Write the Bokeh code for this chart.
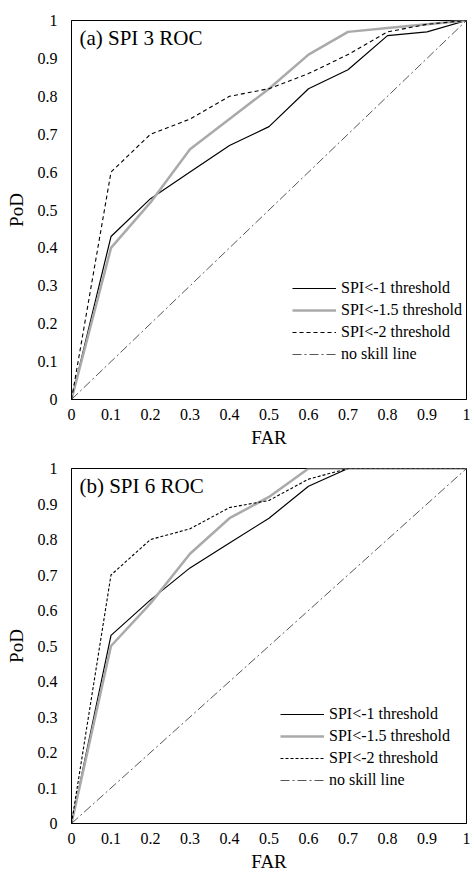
from bokeh.plotting import figure
from bokeh.layouts import column
from bokeh.models import Legend, LegendItem, FixedTicker
from bokeh.embed import file_html
from bokeh.resources import INLINE

far = [0, 0.1, 0.2, 0.3, 0.4, 0.5, 0.6, 0.7, 0.8, 0.9, 1.0]

# (a) SPI 3
a_spi1 = [0, 0.43, 0.53, 0.60, 0.67, 0.72, 0.82, 0.87, 0.96, 0.97, 1.0]
a_spi15 = [0, 0.40, 0.52, 0.66, 0.74, 0.82, 0.91, 0.97, 0.98, 0.99, 1.0]
a_spi2 = [0, 0.60, 0.70, 0.74, 0.80, 0.82, 0.86, 0.91, 0.97, 0.99, 1.0]

# (b) SPI 6
b_spi1 = [0, 0.53, 0.63, 0.72, 0.79, 0.86, 0.95, 1.0, 1.0, 1.0, 1.0]
b_spi15 = [0, 0.50, 0.62, 0.76, 0.86, 0.92, 1.0, 1.0, 1.0, 1.0, 1.0]
b_spi2 = [0, 0.70, 0.80, 0.83, 0.89, 0.91, 0.97, 1.0, 1.0, 1.0, 1.0]

noskill = [0, 1]
ticks = [0, 0.1, 0.2, 0.3, 0.4, 0.5, 0.6, 0.7, 0.8, 0.9, 1.0]
tick_labels = {0: "0", 0.1: "0.1", 0.2: "0.2", 0.3: "0.3", 0.4: "0.4", 0.5: "0.5",
               0.6: "0.6", 0.7: "0.7", 0.8: "0.8", 0.9: "0.9", 1.0: "1"}

FONT = "Liberation Serif"


def make(title, s1, s15, s2, height, top, bottom, dash2, leg_loc):
    p = figure(width=472, height=height, output_backend="svg", toolbar_location=None,
               x_range=(0, 1), y_range=(0, 1),
               min_border_left=71, min_border_right=6,
               min_border_top=top, min_border_bottom=bottom)
    p.xgrid.visible = False
    p.ygrid.visible = False
    p.outline_line_color = "black"
    p.outline_line_width = 1
    p.background_fill_color = "white"
    for ax in (p.xaxis[0], p.yaxis[0]):
        ax.ticker = FixedTicker(ticks=ticks)
        ax.major_label_overrides = tick_labels
        ax.major_tick_line_color = None
        ax.minor_tick_line_color = None
        ax.axis_line_color = "black"
        ax.major_label_text_font = FONT
        ax.major_label_text_font_size = "16px"
        ax.major_label_text_color = "black"
        ax.axis_label_text_font = FONT
        ax.axis_label_text_font_size = "19px"
        ax.axis_label_text_font_style = "normal"
        ax.axis_label_text_color = "black"
    p.xaxis.axis_label = "FAR"
    p.yaxis.axis_label = "PoD"
    p.xaxis.major_label_standoff = 3
    p.xaxis.axis_label_standoff = 4
    p.yaxis.major_label_standoff = 8
    p.yaxis.axis_label_standoff = 8

    r1 = p.line(far, s1, line_color="black", line_width=1.2)
    r15 = p.line(far, s15, line_color="#aaaaaa", line_width=2.5)
    r2 = p.line(far, s2, line_color="black", line_width=1.1, line_dash=dash2)
    rn = p.line(noskill, noskill, line_color="#444444", line_width=0.9, line_dash="9 3 2 3")

    p.text(x=[0.02], y=[0.985], text=[title], text_font={"value": FONT},
           text_font_size="21px", text_baseline="top", text_color="black")

    legend = Legend(items=[
        LegendItem(label="SPI<-1 threshold", renderers=[r1]),
        LegendItem(label="SPI<-1.5 threshold", renderers=[r15]),
        LegendItem(label="SPI<-2 threshold", renderers=[r2]),
        LegendItem(label="no skill line", renderers=[rn]),
    ])
    legend.border_line_color = None
    legend.background_fill_alpha = 0
    legend.label_text_font = FONT
    legend.label_text_font_size = "16px"
    legend.label_text_color = "black"
    legend.glyph_width = 44
    legend.glyph_height = 18
    legend.label_height = 18
    legend.spacing = 4
    legend.label_standoff = 5
    legend.padding = 0
    legend.margin = 0
    legend.location = leg_loc
    p.add_layout(legend)
    return p


pa = make("(a) SPI 3 ROC", a_spi1, a_spi15, a_spi2, 450, 20, 40, "4 3", (221, 36))
pb = make("(b) SPI 6 ROC", b_spi1, b_spi15, b_spi2, 424, 18, 34, "3 2", (209, 34))

layout = column(pa, pb, spacing=0)
open("out.html", "w").write(file_html(layout, INLINE))
